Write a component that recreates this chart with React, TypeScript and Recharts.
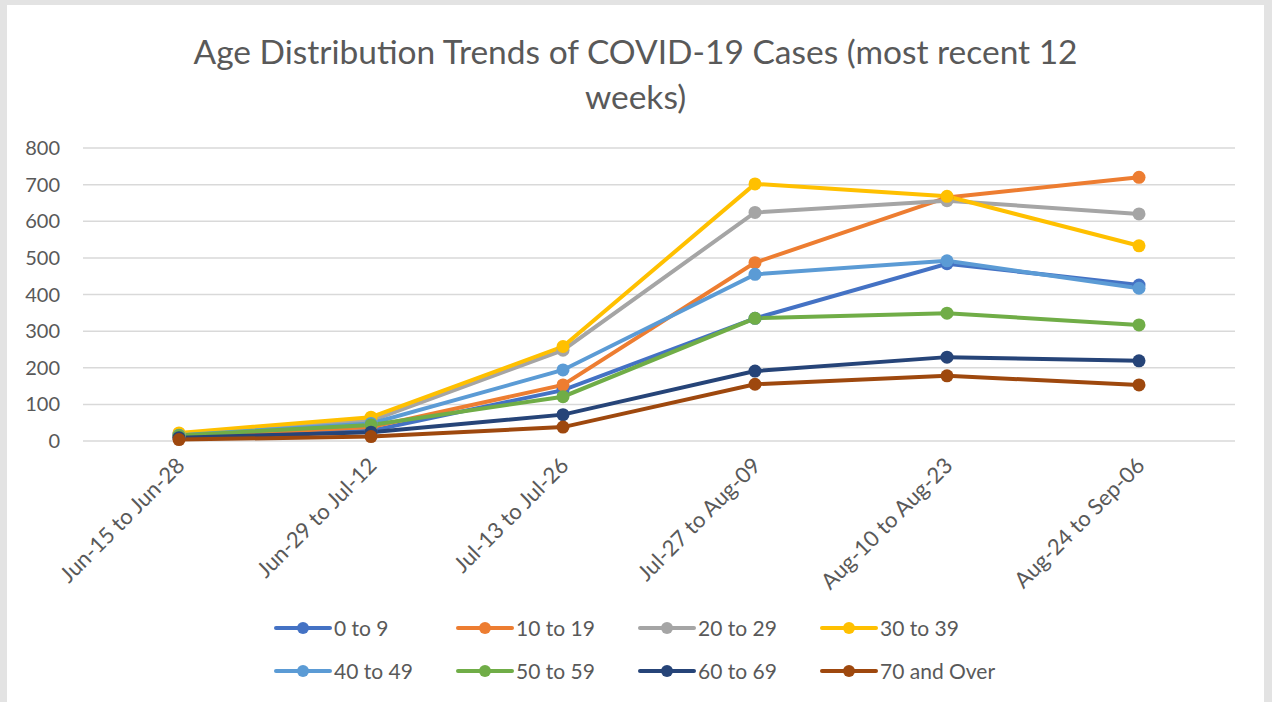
import React from "react";
import { LineChart, Line, XAxis, YAxis, CartesianGrid, Legend } from "recharts";

const categories = [
  "Jun-15 to Jun-28",
  "Jun-29 to Jul-12",
  "Jul-13 to Jul-26",
  "Jul-27 to Aug-09",
  "Aug-10 to Aug-23",
  "Aug-24 to Sep-06",
];
const age0to9 = [10, 28, 139, 335, 484, 426];
const age10to19 = [13, 38, 153, 487, 665, 720];
const age20to29 = [19, 55, 248, 624, 656, 620];
const age30to39 = [22, 65, 258, 702, 668, 533];
const age40to49 = [16, 48, 194, 455, 492, 417];
const age50to59 = [15, 44, 121, 335, 349, 317];
const age60to69 = [9, 24, 72, 191, 229, 219];
const age70plus = [4, 12, 38, 155, 178, 153];
const yTicks = [0, 100, 200, 300, 400, 500, 600, 700, 800];

const seriesNames = ["0 to 9", "10 to 19", "20 to 29", "30 to 39", "40 to 49", "50 to 59", "60 to 69", "70 and Over"];
const seriesValues = [age0to9, age10to19, age20to29, age30to39, age40to49, age50to59, age60to69, age70plus];
const seriesColors = ["#4472C4", "#ED7D31", "#A5A5A5", "#FFC000", "#5B9BD5", "#70AD47", "#264478", "#9E480E"];

const data = categories.map((c, i) => {
  const row: Record<string, any> = { category: c };
  seriesNames.forEach((n, j) => {
    row[n] = seriesValues[j][i];
  });
  return row;
});

const FONT = "Lato, 'Open Sans', sans-serif";
const TEXT = "#595959";

const XTick = (props: any) => {
  const { x, y, payload } = props;
  return (
    <g transform={`translate(${x + 7},${y + 18})`}>
      <text
        x={0}
        y={0}
        textAnchor="end"
        transform="rotate(-45)"
        fill={TEXT}
        fontSize={22}
        fontFamily={FONT}
      >
        {payload.value}
      </text>
    </g>
  );
};

const LegendContent = (props: any) => {
  const payload = props.payload || [];
  return (
    <div
      style={{
        display: "grid",
        gridTemplateColumns: "182px 182px 182px 182px",
        gridAutoRows: "25px",
        rowGap: 18,
        alignContent: "start",
        marginLeft: 251,
        paddingTop: 5,
        boxSizing: "border-box",
        fontFamily: FONT,
        fontSize: 21,
        color: TEXT,
        height: 80,
      }}
    >
      {payload.map((p: any) => (
        <div key={p.value} style={{ display: "flex", alignItems: "center", height: 25 }}>
          <svg width={58} height={16} style={{ marginRight: 2 }}>
            <line x1={2} y1={8} x2={56} y2={8} stroke={p.color} strokeWidth={4} strokeLinecap="round" />
            <circle cx={29} cy={8} r={6} fill={p.color} />
          </svg>
          <span>{p.value}</span>
        </div>
      ))}
    </div>
  );
};

export default function App() {
  return (
    <div
      style={{
        position: "absolute",
        left: 0,
        top: 0,
        width: 1272,
        height: 702,
        background: "#e3e3e3",
        overflow: "hidden",
      }}
    >
      <div
        style={{
          position: "absolute",
          left: 7,
          top: 5,
          width: 1257,
          height: 697,
          background: "#ffffff",
        }}
      >
        <div
          style={{
            position: "absolute",
            left: 0,
            top: 24,
            width: 1257,
            textAlign: "center",
            fontFamily: FONT,
            fontSize: 33.5,
            lineHeight: "45px",
            color: TEXT,
          }}
        >
          Age Distribution Trends of COVID-19 Cases (most recent 12
          <br />
          weeks)
        </div>
        <LineChart
          width={1257}
          height={697}
          data={data}
          margin={{ top: 143, right: 29, left: 16, bottom: 12 }}
        >
          <CartesianGrid vertical={false} stroke="#d9d9d9" strokeWidth={1.5} />
          <XAxis
            dataKey="category"
            axisLine={false}
            tickLine={false}
            padding={{ left: 96, right: 96 }}
            height={169}
            interval={0}
            tick={<XTick />}
          />
          <YAxis
            domain={[0, 800]}
            ticks={yTicks}
            width={60}
            axisLine={false}
            tickLine={false}
            tickSize={0}
            tickMargin={23}
            tick={{ fill: TEXT, fontSize: 20, fontFamily: FONT }}
          />
          <Legend verticalAlign="bottom" content={<LegendContent />} />
          {seriesNames.map((n, j) => (
            <Line
              key={n}
              dataKey={n}
              name={n}
              stroke={seriesColors[j]}
              strokeWidth={4}
              dot={{ r: 6.5, fill: seriesColors[j], stroke: seriesColors[j], strokeWidth: 0 }}
              activeDot={false}
              isAnimationActive={false}
            />
          ))}
        </LineChart>
      </div>
    </div>
  );
}
